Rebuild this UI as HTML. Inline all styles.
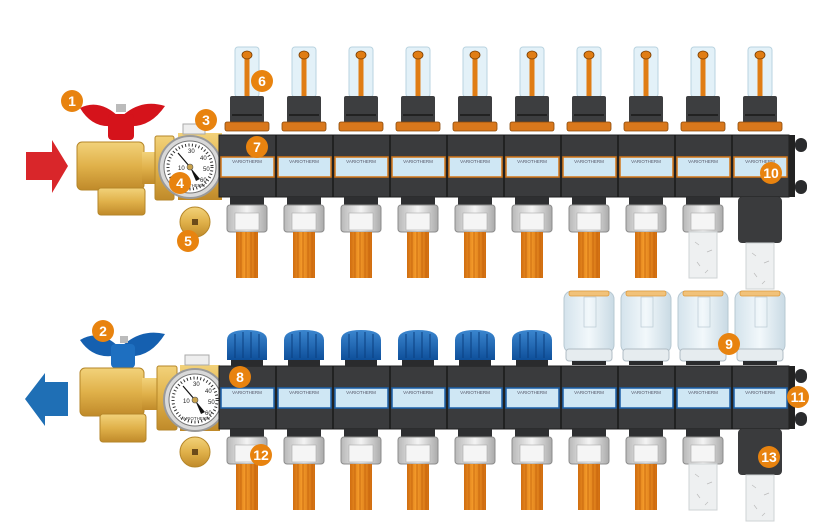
<!DOCTYPE html>
<html><head><meta charset="utf-8"><style>
html,body{margin:0;padding:0;background:#fff;}
svg{display:block;font-family:"Liberation Sans",sans-serif;}
.n{fill:#fff;font-size:14px;font-weight:bold;text-anchor:middle;}
.lb{font-size:4.5px;fill:#556;text-anchor:middle;}
</style></head><body>
<svg width="830" height="529" viewBox="0 0 830 529" xmlns="http://www.w3.org/2000/svg">
<defs>
<linearGradient id="brass" x1="0" y1="0" x2="0" y2="1"><stop offset="0" stop-color="#f2d27a"/><stop offset=".5" stop-color="#e0b14a"/><stop offset="1" stop-color="#c08a2a"/></linearGradient>
<linearGradient id="pipe" x1="0" y1="0" x2="1" y2="0"><stop offset="0" stop-color="#d06d10"/><stop offset=".4" stop-color="#f39a2a"/><stop offset="1" stop-color="#d06d10"/></linearGradient>
<linearGradient id="silver" x1="0" y1="0" x2="1" y2="0"><stop offset="0" stop-color="#b8b8b8"/><stop offset=".5" stop-color="#f4f4f4"/><stop offset="1" stop-color="#aaa"/></linearGradient>
<linearGradient id="act" x1="0" y1="0" x2="1" y2="0"><stop offset="0" stop-color="#d4e3ec"/><stop offset=".5" stop-color="#f2f8fb"/><stop offset="1" stop-color="#c9dae4"/></linearGradient>
<linearGradient id="bcap" x1="0" y1="0" x2="0" y2="1"><stop offset="0" stop-color="#3b86cf"/><stop offset="1" stop-color="#0e4f9a"/></linearGradient>
<g id="fm">
  <rect x="-12" y="47" width="24" height="50" rx="3" fill="#e3f1f8" stroke="#b9d3e0"/>
  <rect x="-2.5" y="56" width="5" height="40" fill="#e07d14"/>
  <ellipse cx="0" cy="55" rx="5" ry="4" fill="#e07d14" stroke="#7a3d00" stroke-width=".8"/>
  <rect x="-17" y="96" width="34" height="27" rx="2" fill="#3d3e40"/>
  <rect x="-15" y="114" width="30" height="2" fill="#222"/>
  <rect x="-22" y="122" width="44" height="9" rx="2" fill="#d9781c" stroke="#8a4a0a" stroke-width=".8"/>
</g>
<g id="con">
  <rect x="-17" y="0" width="34" height="8" fill="#2e2f31"/>
  <rect x="-20" y="8" width="40" height="27" rx="3" fill="url(#silver)" stroke="#8c8c8c"/>
  <rect x="-12" y="16" width="24" height="17" fill="#f5f5f5" stroke="#aaa" stroke-width=".6"/>
</g>
<g id="op">
  <rect x="-11" y="0" width="22" height="46" fill="url(#pipe)"/>
  <path d="M-6 0v46M-1 0v46M4 0v46M8 0v46" stroke="#c4620c" stroke-width=".8"/>
</g>
<g id="wp">
  <rect x="-14" y="0" width="28" height="46" fill="#eef0f1" stroke="#cfd3d5"/>
  <path d="M-8 10l4 3M4 20l5-2M-6 30l3 4M5 38l-3 3" stroke="#bbb" stroke-width=".7"/>
</g>
<g id="elb">
  <rect x="-22" y="0" width="44" height="46" rx="4" fill="#3a3b3d"/>
</g>
<g id="cap">
  <path d="M-20 30 L-20 10 Q-20 0 0 0 Q20 0 20 10 L20 30 Z" fill="url(#bcap)"/>
  <path d="M-12 4v24M-4 2v26M4 2v26M12 4v24" stroke="#0a3f80" stroke-width="1"/>
  <rect x="-16" y="30" width="32" height="6" fill="#2a2b2d"/>
</g>
<g id="actu">
  <rect x="-25" y="0" width="50" height="62" rx="8" fill="url(#act)" stroke="#b7c8d2"/>
  <rect x="-20" y="0" width="40" height="5" rx="2" fill="#f1c27a" stroke="#e09a3a" stroke-width=".8"/>
  <rect x="-5" y="6" width="12" height="30" fill="none" stroke="#b9c9d3" stroke-width=".7"/>
  <rect x="-23" y="58" width="46" height="12" rx="3" fill="#e6ecef" stroke="#b0bcc4"/>
  <rect x="-17" y="70" width="34" height="4" fill="#2a2b2d"/>
</g>
<g id="gauge">
  <circle r="31" fill="#d9d9d9" stroke="#9a9a9a" stroke-width="2"/>
  <circle r="26" fill="#fff" stroke="#777"/>
  <circle r="22" fill="none" stroke="#333" stroke-width="3" stroke-dasharray="1 2.4"/>
  <text x="-12" y="3" font-size="6" fill="#222">10</text><text x="-2" y="-14" font-size="6" fill="#222">30</text>
  <text x="10" y="-7" font-size="6" fill="#222">40</text><text x="13" y="4" font-size="6" fill="#222">50</text>
  <text x="10" y="15" font-size="6" fill="#222">60</text>
  <line x1="-12" y1="-14" x2="0" y2="0" stroke="#111" stroke-width="1.2"/>
  <path d="M0 0 L10 12 L6 14 Z" fill="#111"/>
  <circle r="3" fill="#c9a24c" stroke="#555" stroke-width=".6"/>
  <text x="0" y="20" font-size="4.5" text-anchor="middle" fill="#333">VARIOTHERM</text>
</g>
</defs>

<!-- ===== TOP ===== -->
<path d="M26 152 H52 V140 L68 166 L52 193 V180 H26 Z" fill="#d9262a"/>
<!-- handle -->
<path d="M80 108 Q100 98 120 118 Q140 98 165 106 Q150 128 128 126 L112 126 Q92 128 80 108Z" fill="#d5131b"/>
<rect x="108" y="114" width="26" height="26" rx="4" fill="#d5131b"/>
<rect x="116" y="104" width="10" height="8" fill="#bbb"/>
<!-- valve body -->
<rect x="77" y="142" width="67" height="48" rx="5" fill="url(#brass)" stroke="#b58628"/>
<rect x="98" y="188" width="47" height="27" rx="3" fill="url(#brass)" stroke="#b58628"/>
<rect x="142" y="152" width="16" height="32" fill="url(#brass)"/>
<rect x="155" y="136" width="19" height="64" rx="2" fill="url(#brass)" stroke="#b58628"/>
<rect x="178" y="133" width="44" height="67" fill="url(#brass)"/>
<rect x="183" y="124" width="22" height="10" fill="#eee" stroke="#aaa"/>
<circle cx="195" cy="222" r="15" fill="url(#brass)" stroke="#b58628"/>
<rect x="192" y="219" width="6" height="6" fill="#6b4a1a"/>
<use href="#gauge" x="190" y="167"/>

<!-- top bar -->
<rect x="219" y="135" width="570" height="62" fill="#3a3b3d" stroke="#1f1f20"/>
<rect x="789" y="135" width="6" height="62" fill="#222"/>
<rect x="795" y="138" width="12" height="14" rx="6" fill="#2a2b2d"/><rect x="795" y="180" width="12" height="14" rx="6" fill="#2a2b2d"/>
<g fill="#cfe7f4" stroke="#d27618" stroke-width="1.5">
<rect x="221" y="157" width="53" height="20"/><rect x="278" y="157" width="53" height="20"/><rect x="335" y="157" width="53" height="20"/><rect x="392" y="157" width="53" height="20"/><rect x="449" y="157" width="53" height="20"/><rect x="506" y="157" width="53" height="20"/><rect x="563" y="157" width="53" height="20"/><rect x="620" y="157" width="53" height="20"/><rect x="677" y="157" width="53" height="20"/><rect x="734" y="157" width="53" height="20"/>
</g>
<g stroke="#111" stroke-width="1.2"><path d="M276 135v62M333 135v62M390 135v62M447 135v62M504 135v62M561 135v62M618 135v62M675 135v62M732 135v62"/></g>
<g class="lb"><text x="247" y="163">VARIOTHERM</text><text x="304" y="163">VARIOTHERM</text><text x="361" y="163">VARIOTHERM</text><text x="418" y="163">VARIOTHERM</text><text x="475" y="163">VARIOTHERM</text><text x="532" y="163">VARIOTHERM</text><text x="589" y="163">VARIOTHERM</text><text x="646" y="163">VARIOTHERM</text><text x="703" y="163">VARIOTHERM</text><text x="760" y="163">VARIOTHERM</text></g>
<use href="#fm" x="247"/><use href="#fm" x="304"/><use href="#fm" x="361"/><use href="#fm" x="418"/><use href="#fm" x="475"/><use href="#fm" x="532"/><use href="#fm" x="589"/><use href="#fm" x="646"/><use href="#fm" x="703"/><use href="#fm" x="760"/>
<use href="#con" x="247" y="197"/><use href="#con" x="304" y="197"/><use href="#con" x="361" y="197"/><use href="#con" x="418" y="197"/><use href="#con" x="475" y="197"/><use href="#con" x="532" y="197"/><use href="#con" x="589" y="197"/><use href="#con" x="646" y="197"/><use href="#con" x="703" y="197"/>
<use href="#op" x="247" y="232"/><use href="#op" x="304" y="232"/><use href="#op" x="361" y="232"/><use href="#op" x="418" y="232"/><use href="#op" x="475" y="232"/><use href="#op" x="532" y="232"/><use href="#op" x="589" y="232"/><use href="#op" x="646" y="232"/>
<use href="#wp" x="703" y="232"/>
<use href="#elb" x="760" y="197"/><use href="#wp" x="760" y="243"/>

<!-- ===== BOTTOM ===== -->
<path d="M68 382 H45 V373 L25 399 L45 426 V416 H68 Z" fill="#1f6fb5"/>
<path d="M80 340 Q100 328 120 348 Q140 328 165 334 Q150 358 128 356 L112 356 Q92 358 80 340Z" fill="#1560b0"/>
<rect x="111" y="344" width="24" height="24" rx="4" fill="#1e6fc0"/>
<rect x="120" y="336" width="8" height="7" fill="#bbb"/>
<rect x="80" y="368" width="64" height="48" rx="5" fill="url(#brass)" stroke="#b58628"/>
<rect x="100" y="414" width="46" height="28" rx="3" fill="url(#brass)" stroke="#b58628"/>
<rect x="142" y="378" width="16" height="32" fill="url(#brass)"/>
<rect x="157" y="366" width="20" height="64" rx="2" fill="url(#brass)" stroke="#b58628"/>
<rect x="180" y="365" width="40" height="66" fill="url(#brass)"/>
<rect x="185" y="355" width="24" height="10" fill="#eee" stroke="#aaa"/>
<circle cx="195" cy="452" r="15" fill="url(#brass)" stroke="#b58628"/>
<rect x="192" y="449" width="6" height="6" fill="#6b4a1a"/>
<use href="#gauge" x="195" y="400"/>

<rect x="219" y="366" width="570" height="63" fill="#3a3b3d" stroke="#1f1f20"/>
<rect x="789" y="366" width="6" height="63" fill="#222"/>
<rect x="795" y="369" width="12" height="14" rx="6" fill="#2a2b2d"/><rect x="795" y="412" width="12" height="14" rx="6" fill="#2a2b2d"/>
<g fill="#cfe7f4" stroke="#1a5fa8" stroke-width="1.5">
<rect x="221" y="388" width="53" height="20"/><rect x="278" y="388" width="53" height="20"/><rect x="335" y="388" width="53" height="20"/><rect x="392" y="388" width="53" height="20"/><rect x="449" y="388" width="53" height="20"/><rect x="506" y="388" width="53" height="20"/><rect x="563" y="388" width="53" height="20"/><rect x="620" y="388" width="53" height="20"/><rect x="677" y="388" width="53" height="20"/><rect x="734" y="388" width="53" height="20"/>
</g>
<g stroke="#111" stroke-width="1.2"><path d="M276 366v63M333 366v63M390 366v63M447 366v63M504 366v63M561 366v63M618 366v63M675 366v63M732 366v63"/></g>
<g class="lb"><text x="247" y="394">VARIOTHERM</text><text x="304" y="394">VARIOTHERM</text><text x="361" y="394">VARIOTHERM</text><text x="418" y="394">VARIOTHERM</text><text x="475" y="394">VARIOTHERM</text><text x="532" y="394">VARIOTHERM</text><text x="589" y="394">VARIOTHERM</text><text x="646" y="394">VARIOTHERM</text><text x="703" y="394">VARIOTHERM</text><text x="760" y="394">VARIOTHERM</text></g>
<use href="#cap" x="247" y="330"/><use href="#cap" x="304" y="330"/><use href="#cap" x="361" y="330"/><use href="#cap" x="418" y="330"/><use href="#cap" x="475" y="330"/><use href="#cap" x="532" y="330"/>
<use href="#actu" x="589" y="291"/><use href="#actu" x="646" y="291"/><use href="#actu" x="703" y="291"/><use href="#actu" x="760" y="291"/>
<use href="#con" x="247" y="429"/><use href="#con" x="304" y="429"/><use href="#con" x="361" y="429"/><use href="#con" x="418" y="429"/><use href="#con" x="475" y="429"/><use href="#con" x="532" y="429"/><use href="#con" x="589" y="429"/><use href="#con" x="646" y="429"/><use href="#con" x="703" y="429"/>
<use href="#op" x="247" y="464"/><use href="#op" x="304" y="464"/><use href="#op" x="361" y="464"/><use href="#op" x="418" y="464"/><use href="#op" x="475" y="464"/><use href="#op" x="532" y="464"/><use href="#op" x="589" y="464"/><use href="#op" x="646" y="464"/>
<use href="#wp" x="703" y="464"/>
<use href="#elb" x="760" y="429"/><use href="#wp" x="760" y="475"/>

<!-- numbers -->
<g fill="#e8830f">
<circle cx="72" cy="101" r="11"/><circle cx="103" cy="331" r="11"/><circle cx="206" cy="120" r="11"/><circle cx="180" cy="183" r="11"/><circle cx="188" cy="241" r="11"/><circle cx="262" cy="81" r="11"/><circle cx="257" cy="147" r="11"/><circle cx="240" cy="377" r="11"/><circle cx="729" cy="344" r="11"/><circle cx="771" cy="173" r="11"/><circle cx="798" cy="397" r="11"/><circle cx="261" cy="455" r="11"/><circle cx="769" cy="457" r="11"/>
</g>
<g class="n">
<text x="72" y="106">1</text><text x="103" y="336">2</text><text x="206" y="125">3</text><text x="180" y="188">4</text><text x="188" y="246">5</text><text x="262" y="86">6</text><text x="257" y="152">7</text><text x="240" y="382">8</text><text x="729" y="349">9</text><text x="771" y="178">10</text><text x="798" y="402">11</text><text x="261" y="460">12</text><text x="769" y="462">13</text>
</g>
</svg>
</body></html>
